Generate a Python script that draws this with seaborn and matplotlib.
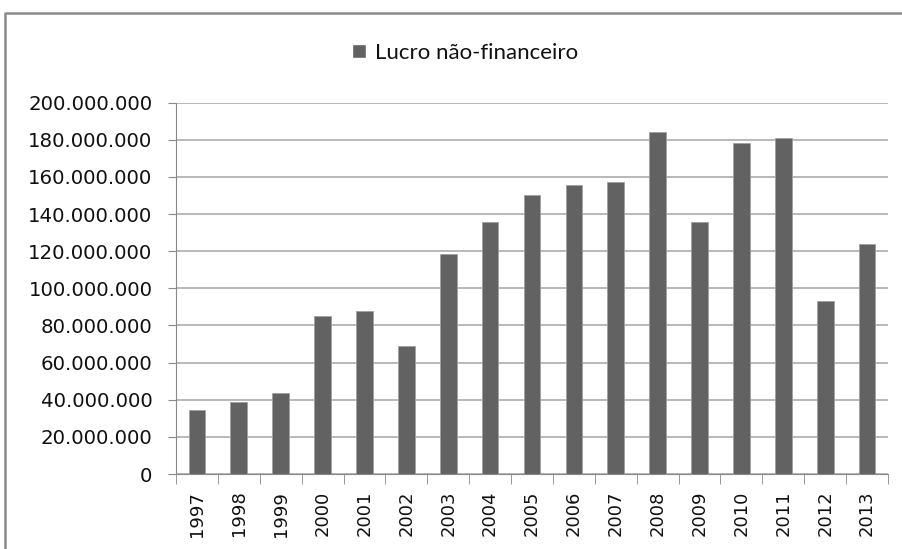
import pandas as pd
import matplotlib.pyplot as plt
import seaborn as sns
from matplotlib.ticker import FuncFormatter
from matplotlib.patches import Patch
from matplotlib.lines import Line2D

# data
years = ['1997', '1998', '1999', '2000', '2001', '2002', '2003', '2004', '2005',
         '2006', '2007', '2008', '2009', '2010', '2011', '2012', '2013']
lucro = [34.3e6, 38.8e6, 43.5e6, 85.0e6, 87.9e6, 68.8e6, 118.4e6, 135.8e6, 150.2e6,
         155.4e6, 157.2e6, 184.2e6, 135.8e6, 178.3e6, 181.0e6, 93.1e6, 124.1e6]
serie = 'Lucro não-financeiro'

df = pd.DataFrame({'ano': years, 'lucro': lucro})

sns.set_style('white')
plt.rcParams['font.family'] = ['DejaVu Sans']

fig = plt.figure(figsize=(9.02, 5.49), dpi=100)
ax = fig.add_axes([176 / 902, 1 - 474 / 549, (888 - 176) / 902, (474 - 102.7) / 549])

sns.barplot(data=df, x='ano', y='lucro', color='#626262', width=0.4,
            edgecolor='#a0a0a0', linewidth=0.6, ax=ax, saturation=1)

ax.set_ylim(0, 200e6)
ax.set_yticks(range(0, 200000001, 20000000))
ax.yaxis.set_major_formatter(FuncFormatter(lambda v, p: f'{int(v):,}'.replace(',', '.')))
ax.set_xlim(-0.5, len(years) - 0.5)
ax.yaxis.grid(True, color='#a6a6a6', linewidth=1.1)
ax.set_axisbelow(True)
ax.set_xlabel('')
ax.set_ylabel('')

for s in ['top', 'right']:
    ax.spines[s].set_visible(False)
ax.spines['left'].set_color('#888888')
ax.spines['bottom'].set_color('#888888')

# x ticks between the categories, labels in the middle
ax.set_xticks([i - 0.5 for i in range(len(years) + 1)], minor=True)
ax.set_xticks(range(len(years)))
ax.set_xticklabels(years, rotation=90, fontsize=13, color='#111111')
ax.tick_params(axis='x', which='major', length=0, pad=12)
ax.tick_params(axis='x', which='minor', length=7, color='#888888', bottom=True)
ax.tick_params(axis='y', length=6, color='#888888', left=True, labelsize=14.2,
               labelcolor='#111111', pad=11)

leg = fig.legend(handles=[Patch(facecolor='#626262', label=serie)], loc='center',
                 bbox_to_anchor=(465 / 902, 1 - 53 / 549), frameon=False,
                 prop={'family': 'Lato', 'size': 16}, handlelength=0.6, handleheight=0.6,
                 handletextpad=0.4, labelcolor='#111111')

# outer chart border, only left and top show in the original
x0, y0 = 5 / 902, 1 - 13 / 549
fig.add_artist(Line2D([x0, x0, 1.02], [-0.02, y0, y0], transform=fig.transFigure,
                      color='#8a8a8a', linewidth=1.8, clip_on=False))

fig.savefig('out.png', dpi=100)
